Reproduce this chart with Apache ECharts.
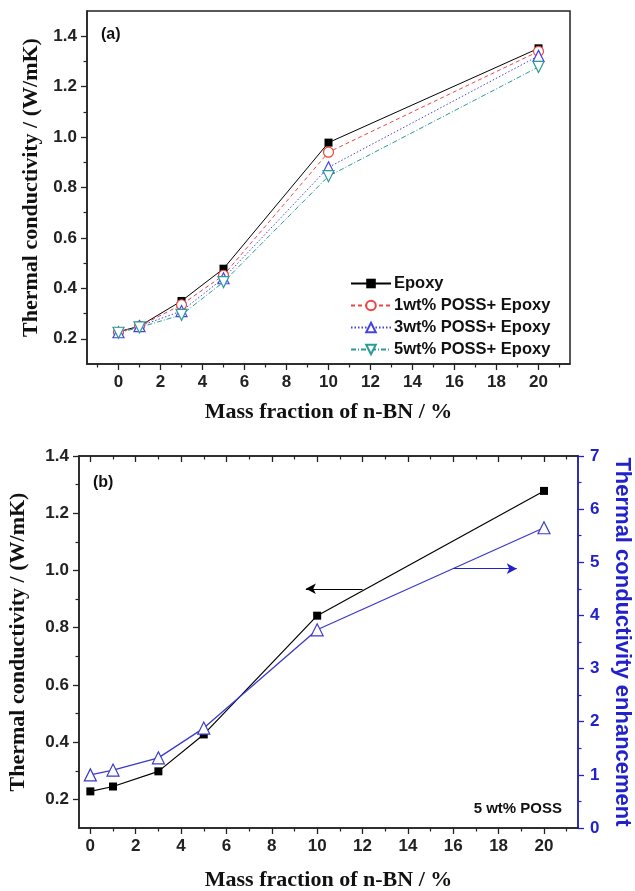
<!DOCTYPE html>
<html>
<head>
<meta charset="utf-8">
<script src="https://cdn.jsdelivr.net/npm/echarts@6/dist/echarts.min.js"></script>
<style>
  html, body { margin: 0; padding: 0; background: #fff; }
  #chart { width: 635px; height: 891px; }
</style>
</head>
<body>
<div id="chart"></div>
<script>
// panel (a): thermal conductivity vs n-BN loading
const massA = [0, 1, 3, 5, 10, 20];
const epoxyA = [0.228, 0.25, 0.35, 0.478, 0.978, 1.352];
const poss1A = [0.226, 0.25, 0.335, 0.452, 0.94, 1.34];
const poss3A = [0.226, 0.25, 0.31, 0.44, 0.88, 1.322];
const poss5A = [0.224, 0.245, 0.295, 0.425, 0.845, 1.278];
const legendA = ['Epoxy', '1wt% POSS+ Epoxy', '3wt% POSS+ Epoxy', '5wt% POSS+ Epoxy'];

// panel (b): 5 wt% POSS, conductivity and enhancement
const massB = [0, 1, 3, 5, 10, 20];
const condB = [0.228, 0.245, 0.298, 0.427, 0.842, 1.278];
const enhB = [1.0, 1.09, 1.32, 1.88, 3.73, 5.65];

// tick labels
const xMajor = [0, 2, 4, 6, 8, 10, 12, 14, 16, 18, 20];
const xMinorA = [-1, 1, 3, 5, 7, 9, 11, 13, 15, 17, 19, 21];
const xMinorB = [1, 3, 5, 7, 9, 11, 13, 15, 17, 19, 21];
const yMajor = [0.2, 0.4, 0.6, 0.8, 1.0, 1.2, 1.4];
const yMinorA = [0.3, 0.5, 0.7, 0.9, 1.1, 1.3];
const yMinorB = [0.3, 0.5, 0.7, 0.9, 1.1, 1.3];

// arrows in panel (b): [x from, x to, y]
const arrowLeft = [12.0, 9.5, 0.936];
const arrowRight = [16.0, 18.8, 4.88];

const chart = echarts.init(document.getElementById('chart'));
const sans = 'Liberation Sans, Arial, sans-serif';
const serif = 'Liberation Serif, Times New Roman, serif';
const pairs = (xs, ys) => xs.map((x, i) => [x, ys[i]]);
const fmt1 = v => (+v).toFixed(1);

const tickLbl = {fontFamily: sans, fontWeight: 'bold', fontSize: 17, color: '#222'};
const axLine = {show: true, onZero: false, lineStyle: {color: '#222', width: 1.5}};
const titleStyle = {fontFamily: serif, fontWeight: 'bold', fontSize: 22, color: '#111'};

function xMajorAxis(grid, min, pos, opts) {
  return Object.assign({
    type: 'value', gridIndex: grid, min: min, max: 21.5, position: pos,
    axisLine: axLine,
    axisTick: {show: true, customValues: xMajor, length: 6, inside: false, lineStyle: {color: '#222', width: 1.3}},
    axisLabel: Object.assign({customValues: xMajor, margin: 10}, tickLbl),
    splitLine: {show: false}
  }, opts || {});
}
function minorAxis(grid, min, max, pos, vals, inside) {
  return {
    type: 'value', gridIndex: grid, min: min, max: max, position: pos,
    axisLine: {show: false, onZero: false},
    axisTick: {show: true, customValues: vals, length: 3.5, inside: !!inside, lineStyle: {color: '#222', width: 1.2}},
    axisLabel: {show: false},
    splitLine: {show: false}
  };
}

chart.setOption({
  backgroundColor: '#fff',
  animation: false,
  grid: [
    {left: 87, top: 11, width: 483, height: 353, show: true, borderColor: '#222', borderWidth: 1.5, outerBoundsMode: 'none'},
    {left: 79, top: 456, width: 499, height: 372, show: true, borderColor: '#222', borderWidth: 1.5, outerBoundsMode: 'none'}
  ],
  legend: {
    data: legendA, orient: 'vertical', left: 345, top: 270,
    itemWidth: 40, itemHeight: 12, itemGap: 5,
    textStyle: {fontFamily: sans, fontWeight: 'bold', fontSize: 16.5, color: '#111', padding: [0, 0, 0, -2]}
  },
  xAxis: [
    xMajorAxis(0, -1.5, 'bottom', {
      name: 'Mass fraction of n-BN / %', nameLocation: 'middle', nameGap: 37, nameTextStyle: titleStyle
    }),
    minorAxis(0, -1.5, 21.5, 'bottom', xMinorA),
    xMajorAxis(1, -0.5, 'bottom', {
      name: 'Mass fraction of n-BN / %', nameLocation: 'middle', nameGap: 41, nameTextStyle: titleStyle
    }),
    minorAxis(1, -0.5, 21.5, 'bottom', xMinorB),
    xMajorAxis(1, -0.5, 'top', {
      axisTick: {show: true, customValues: xMajor, length: 6, inside: true, lineStyle: {color: '#222', width: 1.3}},
      axisLabel: {show: false}
    }),
    minorAxis(1, -0.5, 21.5, 'top', xMinorB, true)
  ],
  yAxis: [
    {
      type: 'value', gridIndex: 0, min: 0.1, max: 1.5, position: 'left',
      axisLine: axLine,
      axisTick: {show: true, customValues: yMajor, length: 6, lineStyle: {color: '#222', width: 1.3}},
      axisLabel: Object.assign({customValues: yMajor, formatter: fmt1, margin: 10}, tickLbl),
      splitLine: {show: false},
      name: 'Thermal conductivity / (W/mK)', nameLocation: 'middle', nameGap: 45, nameTextStyle: titleStyle
    },
    minorAxis(0, 0.1, 1.5, 'left', yMinorA),
    {
      type: 'value', gridIndex: 1, min: 0.1, max: 1.4, position: 'left',
      axisLine: axLine,
      axisTick: {show: true, customValues: yMajor, length: 6, lineStyle: {color: '#222', width: 1.3}},
      axisLabel: Object.assign({customValues: yMajor, formatter: fmt1, margin: 10}, tickLbl),
      splitLine: {show: false},
      name: 'Thermal conductivity / (W/mK)', nameLocation: 'middle', nameGap: 50, nameTextStyle: titleStyle
    },
    {
      type: 'value', gridIndex: 1, min: 0, max: 7, interval: 1, position: 'right',
      axisLine: {show: true, onZero: false, lineStyle: {color: '#2222cc', width: 1.5}},
      axisTick: {show: true, length: 6, lineStyle: {color: '#2222cc', width: 1.3}},
      minorTick: {show: true, splitNumber: 2, length: 3.5, lineStyle: {color: '#2222cc', width: 1.2}},
      axisLabel: {fontFamily: sans, fontWeight: 'bold', fontSize: 17, color: '#2222cc', margin: 12},
      splitLine: {show: false}, minorSplitLine: {show: false},
      name: 'Thermal conductivity enhancement', nameLocation: 'middle', nameGap: 33, nameRotate: -90,
      nameTextStyle: {fontFamily: sans, fontWeight: 'bold', fontSize: 22, color: '#2222cc'}
    },
    minorAxis(1, 0.1, 1.4, 'left', yMinorB)
  ],
  graphic: [
    {type: 'text', left: 101, top: 27, style: {text: '(a)', font: 'bold 16px ' + sans, fill: '#111'}},
    {type: 'text', left: 93, top: 475, style: {text: '(b)', font: 'bold 16px ' + sans, fill: '#111'}},
    {type: 'text', right: 73, top: 801, style: {text: '5 wt% POSS', font: 'bold 15px ' + sans, fill: '#111'}}
  ],
  series: [
    {
      name: legendA[0], type: 'line', xAxisIndex: 0, yAxisIndex: 0, data: pairs(massA, epoxyA),
      symbol: 'rect', symbolSize: 8, itemStyle: {color: '#000'},
      lineStyle: {color: '#000', width: 1}
    },
    {
      name: legendA[1], type: 'line', xAxisIndex: 0, yAxisIndex: 0, data: pairs(massA, poss1A),
      symbol: 'circle', symbolSize: 10, itemStyle: {color: '#fff', borderColor: '#ee4444', borderWidth: 1.2},
      lineStyle: {color: '#ee4444', width: 1, type: [4, 3]}
    },
    {
      name: legendA[2], type: 'line', xAxisIndex: 0, yAxisIndex: 0, data: pairs(massA, poss3A),
      symbol: 'triangle', symbolSize: 11, itemStyle: {color: '#fff', borderColor: '#4444dd', borderWidth: 1.2},
      lineStyle: {color: '#4444dd', width: 1, type: [1.5, 2]}
    },
    {
      name: legendA[3], type: 'line', xAxisIndex: 0, yAxisIndex: 0, data: pairs(massA, poss5A),
      symbol: 'triangle', symbolRotate: 180, symbolSize: 11, itemStyle: {color: '#fff', borderColor: '#2a9a9a', borderWidth: 1.2},
      lineStyle: {color: '#2a9a9a', width: 1, type: [5, 2, 1, 2]}
    },
    {
      name: 'cond', type: 'line', xAxisIndex: 2, yAxisIndex: 2, data: pairs(massB, condB),
      symbol: 'rect', symbolSize: 8, itemStyle: {color: '#000'},
      lineStyle: {color: '#000', width: 1.2},
      markLine: {
        silent: true, symbol: ['none', 'arrow'], symbolSize: [8, 10],
        lineStyle: {color: '#000', width: 1.2, type: 'solid'}, label: {show: false},
        data: [[{coord: [arrowLeft[0], arrowLeft[2]]}, {coord: [arrowLeft[1], arrowLeft[2]]}]]
      }
    },
    {
      name: 'enh', type: 'line', xAxisIndex: 2, yAxisIndex: 3, data: pairs(massB, enhB),
      symbol: 'triangle', symbolSize: 12, itemStyle: {color: '#fff', borderColor: '#3a3acc', borderWidth: 1.2},
      lineStyle: {color: '#3a3acc', width: 1.3},
      markLine: {
        silent: true, symbol: ['none', 'arrow'], symbolSize: [8, 10],
        lineStyle: {color: '#2222cc', width: 1.2, type: 'solid'}, label: {show: false},
        data: [[{coord: [arrowRight[0], arrowRight[2]]}, {coord: [arrowRight[1], arrowRight[2]]}]]
      }
    }
  ]
});
</script>
</body>
</html>
